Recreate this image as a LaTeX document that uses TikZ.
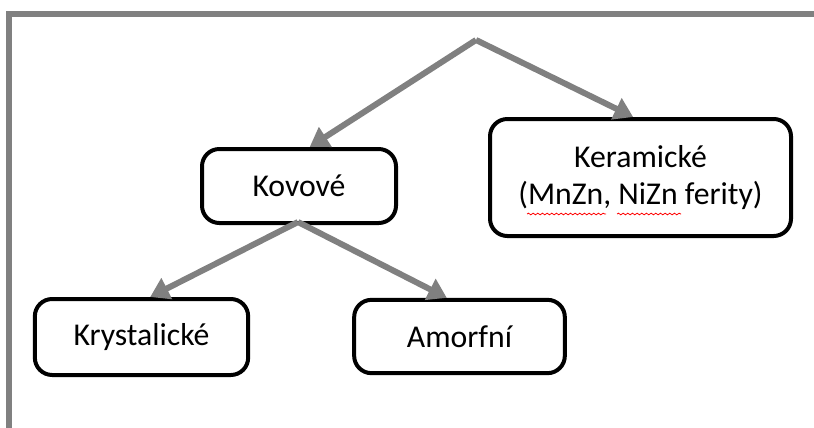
\documentclass[tikz,border=0pt]{standalone}
\usepackage{fontspec}
\setmainfont{Carlito}
\usepackage{tikz}
\usetikzlibrary{arrows.meta}
\usetikzlibrary{positioning}
\usetikzlibrary{decorations.pathmorphing}
\definecolor{arrgray}{RGB}{128,128,128}
\tikzset{>={Triangle[length=14pt, width=17pt]}}
\tikzstyle{box} = [rectangle, rounded corners=13pt, draw=black, line width=3pt, fill=white, align=center, inner sep=0, font=\fontsize{23.8}{28}\selectfont]
\tikzstyle{link} = [->, draw=arrgray, line width=4.5pt]
\tikzstyle{spell} = [red, line width=0.6pt, decorate, decoration={snake, amplitude=0.6pt, segment length=3.5pt}]

\begin{document}
\begin{tikzpicture}[x=0.75pt, y=-0.75pt]
\useasboundingbox (0,0) rectangle (814,428);
% frame
\draw [draw=arrgray, line width=4.5pt] (9,428) -- (9,14) -- (814,14);

\node [box, minimum width=145.5pt, minimum height=55.5pt] (kov) at (299,186) {Kovové};
\node [box, minimum width=225.75pt, minimum height=87.75pt] (ker) at (640.5,177.5) {Keramické\\(MnZn, NiZn ferity)};
\node [box, minimum width=160pt, minimum height=57pt] (kry) at (141.5,337) {Krystalické};
\node [box, minimum width=158pt, minimum height=55pt] (amo) at (459.5,336.5) {Amorfní};

\coordinate (root) at (476,40);
\coordinate (split) at (298,222);
\draw [link] (root) to ([xshift=8pt]kov.north);
\draw [link] (root) to ([xshift=-5.5pt]ker.north);
\draw [link] (split) to ([xshift=6.5pt]kry.north);
\draw [link] (split) to ([xshift=-9.5pt]amo.north);

\draw [spell] (527,214) -- (606,214);
\draw [spell] (617,214) -- (681,214);
\end{tikzpicture}
\end{document}
